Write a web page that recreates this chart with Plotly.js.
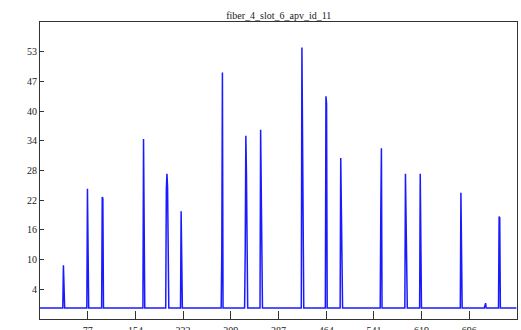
<!DOCTYPE html>
<html>
<head>
<meta charset="utf-8">
<script src="https://cdn.plot.ly/plotly-3.0.1.min.js"></script>
<style>html,body{margin:0;padding:0;background:#fff;}#chart{width:521px;height:330px;}</style>
</head>
<body>
<div id="chart"></div>
<script>
// ---- data ----
const chartTitle = "fiber_4_slot_6_apv_id_11";
const nChannels = 774;
const baselineValue = 0.5;
const spikeChannels = [38, 39, 77, 78, 101, 102, 168, 205, 206, 207, 229, 230, 295, 296,
  333, 334, 335, 358, 359, 425, 426, 464, 465, 488, 489, 553, 554, 593, 594,
  617, 618, 683, 684, 722, 723, 745, 746];
const spikeValues = [9.3, 3.5, 25.0, 11.0, 23.3, 23.0, 35.2, 25.0, 28.1, 25.3, 20.4, 6.9, 12.3, 48.9,
  12.3, 35.9, 28.1, 37.1, 22.7, 54.0, 35.9, 44.0, 42.5, 31.3, 21.6, 20.2, 33.3, 28.1, 18.5,
  28.1, 7.4, 24.2, 8.1, 1.0, 1.5, 19.3, 19.0];
const xTickVals = [77.4, 154.8, 232.2, 309.6, 387.0, 464.4, 541.8, 619.2, 696.6];
const xTickText = ["77", "154", "232", "309", "387", "464", "541", "619", "696"];
const yTickVals = [4.35, 10.45, 16.55, 22.65, 28.75, 34.85, 40.95, 47.05, 53.15];
const yTickText = ["4", "10", "16", "22", "28", "34", "40", "47", "53"];
const xRange = [0, 774];
const yRange = [-1.75, 59.25];

// ---- build series ----
const xs = [];
const ys = [];
for (let i = 0; i < nChannels; i++) { xs.push(i); ys.push(baselineValue); }
spikeChannels.forEach((c, k) => { ys[c] = spikeValues[k]; });

const trace = {
  x: xs, y: ys, type: 'scatter', mode: 'lines',
  line: {color: '#1a1aff', width: 1.5},
  hoverinfo: 'skip'
};

const axisFont = {family: 'Liberation Serif, Times New Roman, serif', size: 10, color: '#222'};
const layout = {
  width: 521, height: 330,
  margin: {l: 40, r: 4, t: 22, b: 11, pad: 0},
  paper_bgcolor: '#fff', plot_bgcolor: '#fff',
  showlegend: false,
  title: {text: chartTitle, x: 0.535, xanchor: 'center', y: 0.952, yanchor: 'middle', yref: 'container',
          font: {family: 'Liberation Serif, Times New Roman, serif', size: 10, color: '#222'}},
  xaxis: {range: xRange, tickmode: 'array', tickvals: xTickVals, ticktext: xTickText,
          ticks: 'inside', ticklen: 8, tickwidth: 1, tickcolor: '#333',
          showline: true, linecolor: '#333', linewidth: 1, mirror: true,
          showgrid: false, zeroline: false, tickfont: axisFont, ticklabelstandoff: 2},
  yaxis: {range: yRange, tickmode: 'array', tickvals: yTickVals, ticktext: yTickText,
          ticks: 'inside', ticklen: 4, tickwidth: 1, tickcolor: '#333',
          showline: true, linecolor: '#333', linewidth: 1, mirror: true,
          showgrid: false, zeroline: false, tickfont: axisFont}
};
Plotly.newPlot('chart', [trace], layout, {staticPlot: true, displayModeBar: false});
</script>
</body>
</html>
